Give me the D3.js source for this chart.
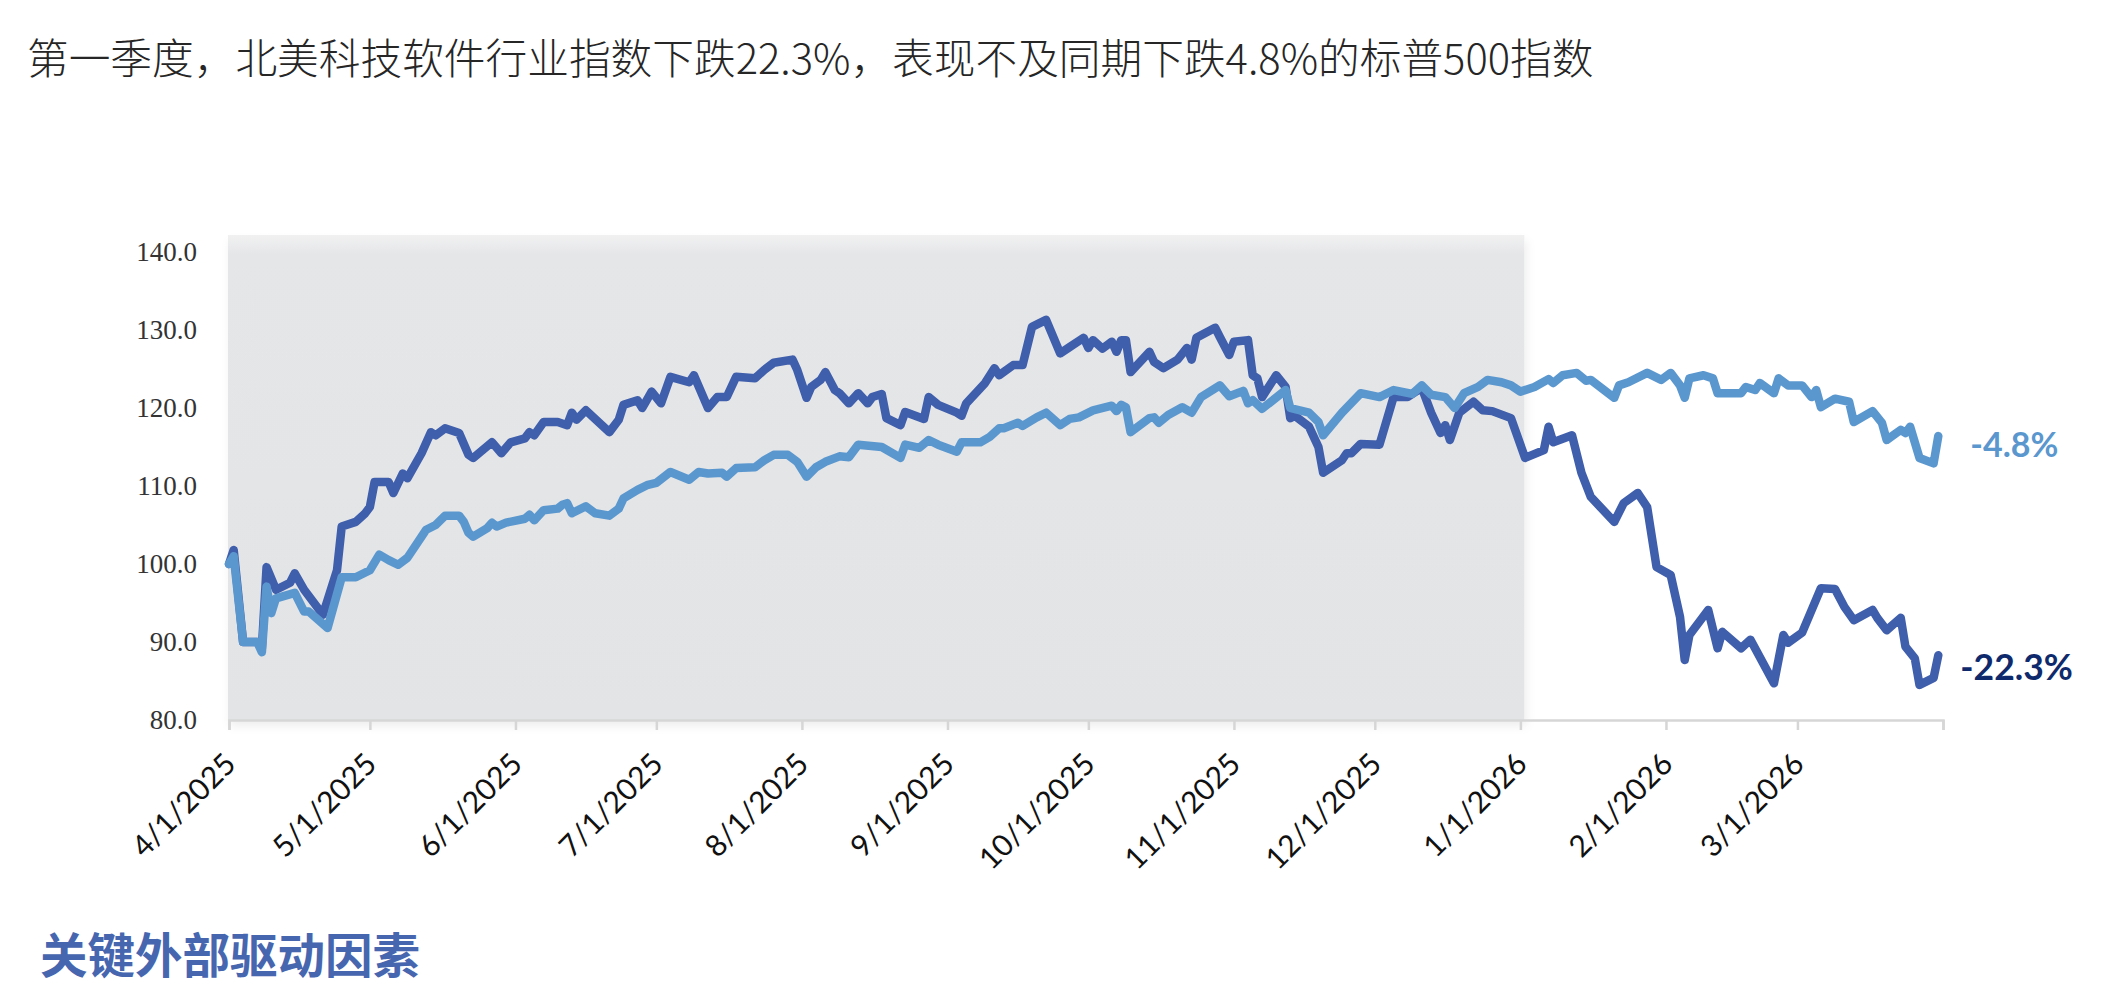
<!DOCTYPE html>
<html>
<head>
<meta charset="utf-8">
<script src="https://cdn.jsdelivr.net/npm/d3@7"></script>
<style>
  body { margin: 0; background: #fff; }
  svg { display: block; }
</style>
</head>
<body>
<div id="chart"></div>
<script>
// series (index, 4/1/2025 = 100)
var softDates = ["2025-04-01","2025-04-02","2025-04-04","2025-04-07","2025-04-08","2025-04-09","2025-04-11","2025-04-14","2025-04-15","2025-04-17",
  "2025-04-21","2025-04-24","2025-04-25","2025-04-28","2025-04-30","2025-05-01","2025-05-02","2025-05-05","2025-05-06","2025-05-08",
  "2025-05-09","2025-05-12","2025-05-14","2025-05-15","2025-05-17","2025-05-20","2025-05-22","2025-05-23","2025-05-27","2025-05-29",
  "2025-05-31","2025-06-03","2025-06-04","2025-06-05","2025-06-07","2025-06-10","2025-06-12","2025-06-13","2025-06-14","2025-06-16",
  "2025-06-21","2025-06-23","2025-06-24","2025-06-27","2025-06-28","2025-06-30","2025-07-02","2025-07-04","2025-07-08","2025-07-09",
  "2025-07-12","2025-07-14","2025-07-16","2025-07-18","2025-07-22","2025-07-24","2025-07-26","2025-07-30","2025-07-31","2025-08-02",
  "2025-08-03","2025-08-05","2025-08-06","2025-08-08","2025-08-09","2025-08-11","2025-08-13","2025-08-15","2025-08-16","2025-08-18",
  "2025-08-19","2025-08-22","2025-08-23","2025-08-27","2025-08-28","2025-08-30","2025-09-03","2025-09-04","2025-09-05","2025-09-09",
  "2025-09-11","2025-09-12","2025-09-15","2025-09-17","2025-09-19","2025-09-22","2025-09-25","2025-09-27","2025-09-30","2025-10-01",
  "2025-10-02","2025-10-04","2025-10-06","2025-10-07","2025-10-08","2025-10-09","2025-10-10","2025-10-14","2025-10-15","2025-10-17",
  "2025-10-20","2025-10-22","2025-10-23","2025-10-24","2025-10-28","2025-10-29","2025-10-31","2025-11-01","2025-11-04","2025-11-05",
  "2025-11-06","2025-11-07","2025-11-10","2025-11-12","2025-11-13","2025-11-14","2025-11-17","2025-11-18","2025-11-19","2025-11-20",
  "2025-11-24","2025-11-25","2025-11-26","2025-11-28","2025-12-02","2025-12-05","2025-12-08","2025-12-11","2025-12-13","2025-12-15",
  "2025-12-16","2025-12-17","2025-12-19","2025-12-22","2025-12-24","2025-12-26","2025-12-30","2026-01-02","2026-01-06","2026-01-07",
  "2026-01-08","2026-01-12","2026-01-14","2026-01-16","2026-01-21","2026-01-23","2026-01-26","2026-01-28","2026-01-30","2026-02-02",
  "2026-02-04","2026-02-05","2026-02-06","2026-02-10","2026-02-12","2026-02-13","2026-02-17","2026-02-19","2026-02-24","2026-02-26",
  "2026-02-27","2026-03-02","2026-03-06","2026-03-09","2026-03-11","2026-03-13","2026-03-17","2026-03-18","2026-03-20","2026-03-23",
  "2026-03-24","2026-03-26","2026-03-27","2026-03-30","2026-03-31"];
var softValues = [100.0,101.8,90.0,90.0,89.2,99.6,96.7,97.6,98.8,96.7,
  93.5,99.2,104.8,105.4,106.5,107.3,110.5,110.5,109.1,111.6,
  111.0,114.2,116.9,116.5,117.4,116.8,114.0,113.6,115.6,114.2,
  115.6,116.1,116.9,116.5,118.2,118.2,117.8,119.4,118.5,119.7,
  116.9,118.5,120.4,121.0,120.0,122.1,120.6,124.0,123.3,124.2,
  120.0,121.4,121.4,124.0,123.8,124.9,125.8,126.2,124.9,121.3,
  122.7,123.6,124.6,122.3,121.9,120.6,121.9,120.6,121.4,121.8,
  118.7,117.8,119.5,118.6,121.4,120.4,119.4,119.0,120.6,123.2,
  125.1,124.2,125.5,125.5,130.4,131.3,127.0,127.8,129.0,127.7,
  128.7,127.6,128.5,127.2,128.7,128.7,124.6,127.2,125.9,125.1,
  126.2,127.7,126.2,129.0,130.3,129.1,126.8,128.5,128.7,124.2,
  123.8,121.4,124.2,122.7,118.7,119.0,117.6,116.3,115.0,111.7,
  113.3,114.2,114.2,115.4,115.3,121.4,121.4,122.6,119.4,116.8,
  117.8,115.9,119.4,120.8,119.7,119.6,118.7,113.6,114.6,117.6,
  115.6,116.5,111.7,108.6,105.4,107.8,109.1,107.3,99.6,98.6,
  93.2,87.7,90.9,94.1,89.2,91.3,89.2,90.3,84.7,90.9,
  89.9,91.2,96.9,96.8,94.5,92.8,94.1,93.1,91.5,93.1,
  89.4,87.9,84.5,85.4,88.3];

var spxDates = ["2025-04-01","2025-04-02","2025-04-04","2025-04-07","2025-04-08","2025-04-09","2025-04-10","2025-04-11","2025-04-15","2025-04-17",
  "2025-04-18","2025-04-22","2025-04-25","2025-04-28","2025-05-01","2025-05-03","2025-05-05","2025-05-07","2025-05-09","2025-05-13",
  "2025-05-15","2025-05-17","2025-05-20","2025-05-21","2025-05-22","2025-05-23","2025-05-26","2025-05-27","2025-05-28","2025-05-30",
  "2025-06-03","2025-06-04","2025-06-05","2025-06-07","2025-06-10","2025-06-11","2025-06-12","2025-06-13","2025-06-16","2025-06-18",
  "2025-06-21","2025-06-23","2025-06-24","2025-06-27","2025-06-29","2025-07-01","2025-07-04","2025-07-08","2025-07-10","2025-07-12",
  "2025-07-15","2025-07-16","2025-07-18","2025-07-22","2025-07-24","2025-07-26","2025-07-29","2025-07-31","2025-08-02","2025-08-04",
  "2025-08-06","2025-08-09","2025-08-11","2025-08-13","2025-08-18","2025-08-22","2025-08-23","2025-08-26","2025-08-28","2025-08-30",
  "2025-09-03","2025-09-04","2025-09-08","2025-09-10","2025-09-12","2025-09-13","2025-09-16","2025-09-17","2025-09-20","2025-09-22",
  "2025-09-25","2025-09-27","2025-09-29","2025-10-02","2025-10-06","2025-10-07","2025-10-08","2025-10-09","2025-10-10","2025-10-14",
  "2025-10-15","2025-10-16","2025-10-18","2025-10-21","2025-10-23","2025-10-25","2025-10-29","2025-10-31","2025-11-03","2025-11-04",
  "2025-11-05","2025-11-07","2025-11-12","2025-11-13","2025-11-17","2025-11-19","2025-11-20","2025-11-24","2025-11-28","2025-12-02",
  "2025-12-05","2025-12-09","2025-12-11","2025-12-13","2025-12-16","2025-12-18","2025-12-20","2025-12-23","2025-12-25","2025-12-28",
  "2025-12-30","2026-01-01","2026-01-04","2026-01-07","2026-01-08","2026-01-10","2026-01-13","2026-01-15","2026-01-16","2026-01-21",
  "2026-01-22","2026-01-24","2026-01-28","2026-01-31","2026-02-02","2026-02-04","2026-02-05","2026-02-06","2026-02-09","2026-02-11",
  "2026-02-12","2026-02-17","2026-02-18","2026-02-20","2026-02-21","2026-02-24","2026-02-25","2026-02-27","2026-03-02","2026-03-04",
  "2026-03-05","2026-03-06","2026-03-09","2026-03-12","2026-03-13","2026-03-17","2026-03-19","2026-03-20","2026-03-23","2026-03-24",
  "2026-03-25","2026-03-27","2026-03-30","2026-03-31"];
var spxValues = [100.0,101.0,90.0,90.0,88.7,97.1,93.7,95.6,96.3,93.9,
  93.9,91.8,98.3,98.3,99.2,101.2,100.5,99.9,100.8,104.4,
  105.0,106.2,106.2,105.4,104.0,103.5,104.6,105.3,104.8,105.3,
  105.8,106.3,105.6,106.9,107.1,107.6,107.8,106.5,107.4,106.5,
  106.2,107.1,108.4,109.5,110.1,110.4,111.8,110.8,111.8,111.6,
  111.7,111.2,112.3,112.4,113.3,114.0,114.0,113.1,111.2,112.4,
  113.1,113.8,113.7,115.3,115.0,113.6,115.3,114.9,115.9,115.3,
  114.4,115.6,115.6,116.3,117.4,117.4,118.1,117.7,118.8,119.4,
  117.8,118.6,118.8,119.7,120.3,119.6,120.4,120.1,116.9,118.7,
  118.8,118.1,119.1,120.1,119.4,121.4,122.9,121.5,122.2,120.6,
  121.0,119.9,122.3,120.0,119.4,118.2,116.5,119.4,121.9,121.4,
  122.3,121.8,122.9,121.7,121.4,120.0,121.9,122.7,123.6,123.3,
  122.9,122.1,122.7,123.7,123.2,124.2,124.5,123.5,123.6,121.3,
  122.9,123.3,124.5,123.6,124.5,122.9,121.3,123.8,124.2,123.8,
  121.9,121.9,122.7,122.3,123.2,121.9,123.8,122.9,122.9,121.4,
  122.3,120.1,121.2,120.8,118.2,119.6,118.1,115.9,117.2,116.8,
  117.6,113.6,112.9,116.4];

var yTicks = [80, 90, 100, 110, 120, 130, 140];
var monthTicks = ["2025-04-01","2025-05-01","2025-06-01","2025-07-01","2025-08-01","2025-09-01","2025-10-01",
  "2025-11-01","2025-12-01","2026-01-01","2026-02-01","2026-03-01","2026-04-01"];
var shadeRange = ["2025-04-01", "2026-01-01"];
var endLabels = ["-4.8%", "-22.3%"];
var titleText = "第一季度，北美科技软件行业指数下跌22.3%，表现不及同期下跌4.8%的标普500指数";
var footText = "关键外部驱动因素";

var margin = {top: 252, right: 159, bottom: 263, left: 229},
    W = 2102, H = 983,
    width = W - margin.left - margin.right,
    height = H - margin.top - margin.bottom;

var parse = d3.timeParse("%Y-%m-%d");

var svg = d3.select("#chart").append("svg")
    .attr("width", W)
    .attr("height", H);

var defs = svg.append("defs");
var grad = defs.append("linearGradient")
    .attr("id", "shadeGrad")
    .attr("x1", 0).attr("y1", 0).attr("x2", 0).attr("y2", 1);
grad.append("stop").attr("offset", "0%").attr("stop-color", "#f1f1f2");
grad.append("stop").attr("offset", "4%").attr("stop-color", "#e5e6e8");
grad.append("stop").attr("offset", "100%").attr("stop-color", "#e3e4e6");

var shadow = defs.append("filter").attr("id", "soft")
    .attr("x", "-5%").attr("y", "-5%").attr("width", "110%").attr("height", "115%");
shadow.append("feDropShadow")
    .attr("dx", 2).attr("dy", 6)
    .attr("stdDeviation", 5)
    .attr("flood-color", "#000")
    .attr("flood-opacity", 0.07);

var g = svg.append("g")
    .attr("transform", "translate(" + margin.left + "," + margin.top + ")");

var x = d3.scaleTime()
    .domain([parse(monthTicks[0]), parse(monthTicks[monthTicks.length - 1])])
    .range([0, width]);
var y = d3.scaleLinear()
    .domain([80, 140])
    .range([height, 0]);

// grey panel behind the 2025 part
g.append("rect")
    .attr("x", x(parse(shadeRange[0])) - 1)
    .attr("y", -17)
    .attr("width", x(parse(shadeRange[1])) - x(parse(shadeRange[0])) + 5)
    .attr("height", height + 17)
    .attr("fill", "url(#shadeGrad)")
    .attr("filter", "url(#soft)");

// title
svg.append("text")
    .attr("x", 27)
    .attr("y", 74)
    .attr("font-family", "'Noto Sans CJK SC', 'Noto Sans', sans-serif")
    .attr("font-size", 41.7)
    .attr("font-weight", 300)
    .attr("fill", "#262626")
    .text(titleText);

// y labels, no axis line
g.selectAll(".ylab")
    .data(yTicks)
    .enter().append("text")
    .attr("class", "ylab")
    .attr("x", -32)
    .attr("y", function(d){ return y(d); })
    .attr("dy", "0.35em")
    .attr("text-anchor", "end")
    .attr("font-family", "'Liberation Serif', serif")
    .attr("font-size", 27)
    .attr("fill", "#333")
    .text(function(d){ return d3.format(".1f")(d); });

// x axis
var fmt = d3.timeFormat("%-m/%-d/%Y");
var xAxis = d3.axisBottom(x)
    .tickValues(monthTicks.map(parse))
    .tickSize(10)
    .tickFormat(function(d, i){ return i < monthTicks.length - 1 ? fmt(d) : ""; });

var ax = g.append("g")
    .attr("transform", "translate(0," + height + ")")
    .call(xAxis);
ax.select(".domain").attr("stroke", "#d6d6d6").attr("stroke-width", 2.5);
ax.selectAll(".tick line").attr("stroke", "#d6d6d6").attr("stroke-width", 2.5);
ax.selectAll(".tick text")
    .attr("font-family", "Lato, 'Open Sans', sans-serif")
    .attr("font-size", 30)
    .attr("fill", "#111")
    .attr("text-anchor", "end")
    .attr("y", 0).attr("dy", 0)
    .attr("transform", "translate(8,46) rotate(-45)");

// lines
var line = d3.line()
    .x(function(d){ return x(d.date); })
    .y(function(d){ return y(d.value); });

var soft = softDates.map(function(d, i){ return {date: parse(d), value: softValues[i]}; });
var spx = spxDates.map(function(d, i){ return {date: parse(d), value: spxValues[i]}; });

g.append("path")
    .datum(soft)
    .attr("fill", "none")
    .attr("stroke", "#3f5eab")
    .attr("stroke-width", 8.5)
    .attr("stroke-linejoin", "round")
    .attr("stroke-linecap", "round")
    .attr("d", line);

g.append("path")
    .datum(spx)
    .attr("fill", "none")
    .attr("stroke", "#5b97cf")
    .attr("stroke-width", 8.5)
    .attr("stroke-linejoin", "round")
    .attr("stroke-linecap", "round")
    .attr("d", line);

// end labels
var lastSpx = spx[spx.length - 1], lastSoft = soft[soft.length - 1];
g.append("text")
    .attr("x", x(lastSpx.date) + 32)
    .attr("y", y(lastSpx.value) + 9)
    .attr("dy", "0.35em")
    .attr("font-family", "Lato, sans-serif")
    .attr("font-weight", 700)
    .attr("font-size", 34)
    .attr("fill", "#5b97cf")
    .text(endLabels[0]);
g.append("text")
    .attr("x", x(lastSoft.date) + 22)
    .attr("y", y(lastSoft.value) + 12)
    .attr("dy", "0.35em")
    .attr("font-family", "Lato, sans-serif")
    .attr("font-weight", 700)
    .attr("font-size", 35.5)
    .attr("fill", "#0f2a6c")
    .text(endLabels[1]);

// section heading under the chart
svg.append("text")
    .attr("x", 40)
    .attr("y", 973)
    .attr("font-family", "'Noto Sans CJK SC', sans-serif")
    .attr("font-weight", 700)
    .attr("font-size", 47.5)
    .attr("fill", "#4766b0")
    .text(footText);
</script>
</body>
</html>
